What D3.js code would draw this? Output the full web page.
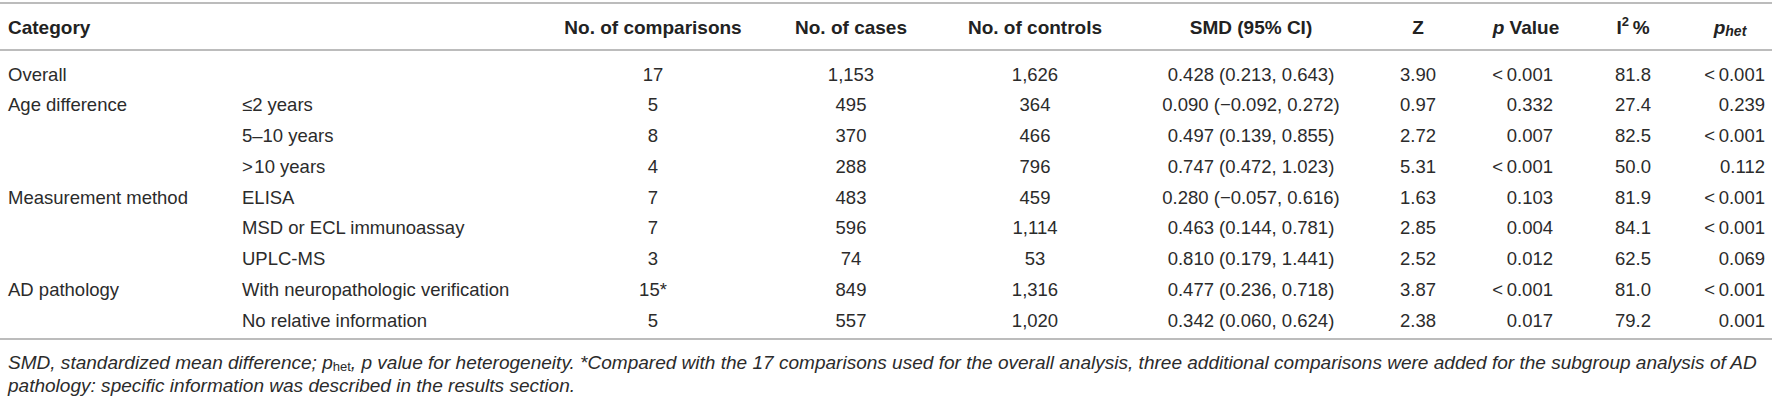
<!DOCTYPE html>
<html>
<head>
<meta charset="utf-8">
<script src="https://cdn.jsdelivr.net/npm/d3@7"></script>
<style>
  body { margin: 0; background: #fff; }
  text { font-family: "Liberation Sans", Arial, Helvetica, sans-serif; }
</style>
</head>
<body>
<svg id="chart" width="1772" height="400"></svg>
<script>
// table data
var categories = ["Overall", "Age difference", "", "", "Measurement method", "", "", "AD pathology", ""];
var subgroups = ["", "\u22642 years", "5\u201310 years", ">\u200A10 years", "ELISA", "MSD or ECL immunoassay", "UPLC-MS", "With neuropathologic verification", "No relative information"];
var comparisons = ["17", "5", "8", "4", "7", "7", "3", "15*", "5"];
var cases = ["1,153", "495", "370", "288", "483", "596", "74", "849", "557"];
var controls = ["1,626", "364", "466", "796", "459", "1,114", "53", "1,316", "1,020"];
var smd = ["0.428 (0.213, 0.643)", "0.090 (\u22120.092, 0.272)", "0.497 (0.139, 0.855)", "0.747 (0.472, 1.023)", "0.280 (\u22120.057, 0.616)", "0.463 (0.144, 0.781)", "0.810 (0.179, 1.441)", "0.477 (0.236, 0.718)", "0.342 (0.060, 0.624)"];
var zValues = ["3.90", "0.97", "2.72", "5.31", "1.63", "2.85", "2.52", "3.87", "2.38"];
var pValues = ["<\u20090.001", "0.332", "0.007", "<\u20090.001", "0.103", "0.004", "0.012", "<\u20090.001", "0.017"];
var i2Values = ["81.8", "27.4", "82.5", "50.0", "81.9", "84.1", "62.5", "81.0", "79.2"];
var phetValues = ["<\u20090.001", "0.239", "<\u20090.001", "0.112", "<\u20090.001", "<\u20090.001", "0.069", "<\u20090.001", "0.001"];

var columns = ["cat", "sub", "comp", "cases", "controls", "smd", "z", "p", "i2", "phet"];

var svg = d3.select("#chart");
var W = 1772;

// column anchors
var colX = d3.scaleOrdinal()
  .domain(columns)
  .range([8, 242, 653, 851, 1035, 1251, 1418, 1553, 1633, 1765]);
var headX = d3.scaleOrdinal()
  .domain(columns)
  .range([8, 242, 653, 851, 1035, 1251, 1418, 1526, 1633, 1730]);
var anchor = d3.scaleOrdinal()
  .domain(columns)
  .range(["start", "start", "middle", "middle", "middle", "middle", "middle", "end", "middle", "end"]);

var y = d3.scalePoint()
  .domain(d3.range(categories.length))
  .range([74, 320]);

// rules
var rules = [3, 50, 339];
svg.selectAll("line.rule")
  .data(rules)
  .enter().append("line")
  .attr("class", "rule")
  .attr("x1", 0).attr("x2", W)
  .attr("y1", function(d){ return d; })
  .attr("y2", function(d){ return d; })
  .attr("stroke", "#a6a6a6")
  .attr("stroke-width", 1.6);

// header
var head = svg.append("g")
  .attr("font-size", 19)
  .attr("font-weight", "bold")
  .attr("fill", "#222");

var hy = 27;
function htext(col){
  return head.append("text")
    .attr("x", headX(col))
    .attr("y", hy)
    .attr("dominant-baseline", "central")
    .attr("text-anchor", col === "cat" ? "start" : "middle");
}
htext("cat").text("Category");
htext("comp").text("No. of comparisons");
htext("cases").text("No. of cases");
htext("controls").text("No. of controls");
htext("smd").text("SMD (95% CI)");
htext("z").text("Z");
var ph = htext("p");
ph.append("tspan").attr("font-style", "italic").text("p");
ph.append("tspan").text(" Value");
var ih = htext("i2");
ih.append("tspan").text("I");
ih.append("tspan").attr("font-size", 13).attr("dy", -6).text("2");
ih.append("tspan").attr("dy", 6).text("\u2009%");
var hh = htext("phet");
hh.append("tspan").attr("font-style", "italic").text("p");
hh.append("tspan").attr("font-style", "italic").attr("font-size", 14).attr("dy", 4).text("het");

// body
var rowsData = d3.range(categories.length).map(function(i){
  return {
    cat: categories[i], sub: subgroups[i], comp: comparisons[i], cases: cases[i],
    controls: controls[i], smd: smd[i], z: zValues[i], p: pValues[i],
    i2: i2Values[i], phet: phetValues[i]
  };
});

var body = svg.append("g")
  .attr("font-size", 18.5)
  .attr("fill", "#2b2b2b");

var row = body.selectAll("g.row")
  .data(rowsData)
  .enter().append("g")
  .attr("class", "row")
  .attr("transform", function(d, i){ return "translate(0," + y(i) + ")"; });

row.selectAll("text")
  .data(function(d){ return columns.map(function(c){ return {col: c, val: d[c]}; }); })
  .enter().append("text")
  .attr("x", function(d){ return colX(d.col); })
  .attr("dominant-baseline", "central")
  .attr("text-anchor", function(d){ return anchor(d.col); })
  .text(function(d){ return d.val; });

// footnote
var foot = svg.append("g")
  .attr("font-size", 19)
  .attr("font-style", "italic")
  .attr("fill", "#2b2b2b");

var f1 = foot.append("text").attr("x", 8).attr("y", 362).attr("dominant-baseline", "central");
f1.append("tspan").text("SMD, standardized mean difference; p");
f1.append("tspan").attr("font-style", "normal").attr("font-size", 13).attr("dy", 4).text("het");
f1.append("tspan").attr("dy", -4).text(", p value for heterogeneity. *Compared with the 17 comparisons used for the overall analysis, three additional comparisons were added for the subgroup analysis of AD");

foot.append("text").attr("x", 8).attr("y", 385).attr("dominant-baseline", "central")
  .text("pathology: specific information was described in the results section.");

// fit the long footnote line to the table width
var len = f1.node().getComputedTextLength();
var fs = Math.min(19.5, 19 * 1750 / len);
foot.attr("font-size", fs);
</script>
</body>
</html>
